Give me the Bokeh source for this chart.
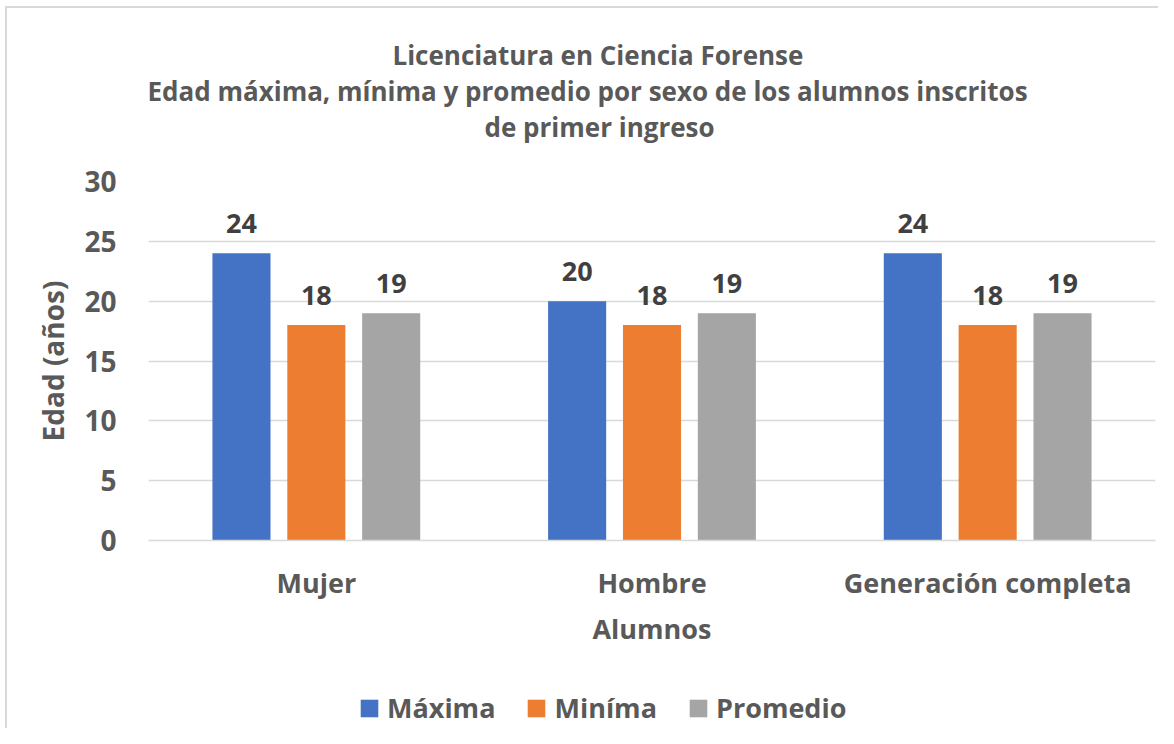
from bokeh.plotting import figure
from bokeh.layouts import column
from bokeh.models import (FactorRange, ColumnDataSource, Legend, LegendItem, Title, Range1d,
                          SingleIntervalTicker)
from bokeh.transform import dodge
from bokeh.core.properties import value
from bokeh.embed import file_html
from bokeh.resources import INLINE

categories = ["Mujer", "Hombre", "Generación completa"]
maxima = [24, 20, 24]
minima = [18, 18, 18]
promedio = [19, 19, 19]
series_names = ["Máxima", "Miníma", "Promedio"]
colors = ["#4472C4", "#ED7D31", "#A5A5A5"]
title_lines = ["Licenciatura en Ciencia Forense",
               "Edad máxima, mínima y promedio por sexo de los alumnos inscritos",
               "de primer ingreso"]
title_offsets = [244, -1, 336]
title_standoffs = [-2, -2, -2]

FONT = "Open Sans"
TXT = "#595959"

src = ColumnDataSource(dict(cat=categories, maxima=maxima, minima=minima, promedio=promedio,
                            lmax=[str(v) for v in maxima], lmin=[str(v) for v in minima],
                            lprom=[str(v) for v in promedio]))
offs = [-0.223, 0.0, 0.223]
fields = ["maxima", "minima", "promedio"]
lfields = ["lmax", "lmin", "lprom"]

# ---------------- main chart ----------------
p = figure(x_range=FactorRange(*categories, range_padding=0), y_range=Range1d(0, 30),
           width=1151, height=662, output_backend="svg", toolbar_location=None,
           min_border_left=141, min_border_right=3, min_border_top=173, min_border_bottom=130)
p.outline_line_color = None
p.background_fill_color = "white"
p.border_fill_color = "white"

for f, lf, o, c in zip(fields, lfields, offs, colors):
    p.vbar(x=dodge("cat", o, range=p.x_range), top=f, width=0.173, source=src,
           fill_color=c, line_color=None)
    p.text(x=dodge("cat", o, range=p.x_range), y=f, text=lf, source=src,
           text_align="center", text_baseline="alphabetic", y_offset=-30,
           text_font=value(FONT), text_font_style="bold", text_font_size="27px",
           text_color="#404040")

p.yaxis.ticker = SingleIntervalTicker(interval=5)
for ax in (p.xaxis[0], p.yaxis[0]):
    ax.major_tick_line_color = None
    ax.minor_tick_line_color = None
    ax.major_label_text_font = FONT
    ax.major_label_text_font_style = "bold"
    ax.major_label_text_color = TXT
    ax.axis_label_text_font = FONT
    ax.axis_label_text_font_style = "bold"
    ax.axis_label_text_color = TXT
p.yaxis.major_label_text_font_size = "28px"
p.xaxis.major_label_text_font_size = "27px"
p.yaxis.axis_label_text_font_size = "28px"
p.xaxis.axis_label_text_font_size = "27px"
p.yaxis.axis_line_color = None
p.xaxis.axis_line_color = "#d9d9d9"
p.xaxis.axis_line_width = 1.5
p.yaxis.major_label_standoff = 26
p.xaxis.major_label_standoff = 17
p.xaxis.axis_label = "Alumnos"
p.yaxis.axis_label = "Edad (años)"
p.xaxis.axis_label_standoff = 6
p.yaxis.axis_label_standoff = 9
p.xgrid.grid_line_color = None
p.ygrid.grid_line_color = "#d9d9d9"
p.ygrid.grid_line_width = 1.5

# blank spacer between plot area and the title block
p.add_layout(Title(text=" ", text_font=FONT, text_font_size="26px", standoff=0), "above")
for line, off, so in reversed(list(zip(title_lines, title_offsets, title_standoffs))):
    p.add_layout(Title(text=line, align="left", offset=off, text_font=FONT,
                       text_font_style="bold", text_font_size="26px", text_color=TXT,
                       standoff=so), "above")

# ---------------- legend strip ----------------
q = figure(x_range=FactorRange(*categories), y_range=Range1d(100, 101),
           width=1151, height=58, output_backend="svg", toolbar_location=None,
           min_border=0)
q.axis.visible = False
q.grid.grid_line_color = None
q.outline_line_color = None
q.background_fill_color = "white"
q.border_fill_color = "white"
rs = []
for f, o, c in zip(fields, offs, colors):
    rs.append(q.vbar(x=dodge("cat", o, range=q.x_range), top=f, width=0.173, source=src,
                     fill_color=c, line_color=None))
legend = Legend(items=[LegendItem(label=n, renderers=[r]) for n, r in zip(series_names, rs)],
                orientation="horizontal", location=(210, 2), padding=0, margin=0,
                spacing=30, label_standoff=7, glyph_width=22, glyph_height=22,
                label_text_font=FONT, label_text_font_style="bold", label_text_font_size="27px",
                label_text_color=TXT, border_line_color=None, background_fill_alpha=0)
q.add_layout(legend, "center")

page = column(p, q, spacing=0)
page.styles = {"margin-left": "5px", "margin-top": "6px",
               "border-left": "2px solid #d9d9d9", "border-top": "2px solid #d9d9d9"}

open("out.html", "w").write(file_html(page, INLINE))
